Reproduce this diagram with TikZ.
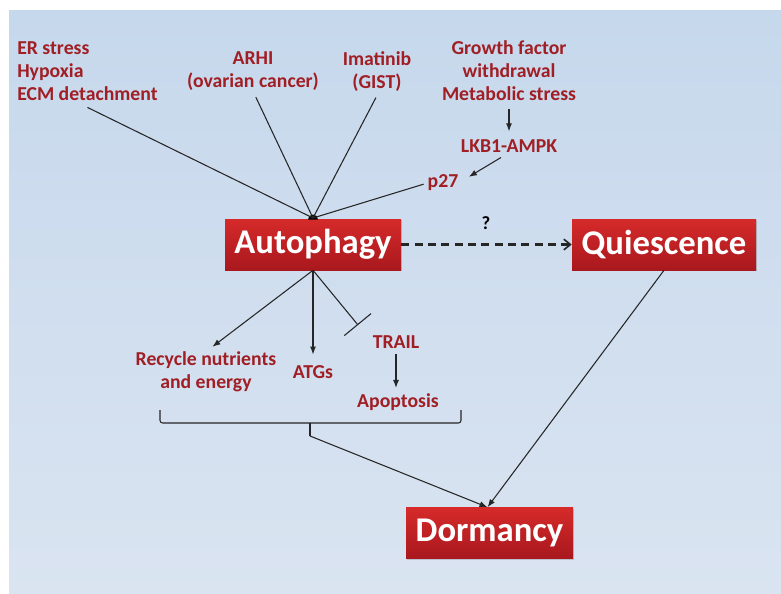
\documentclass[tikz,border=0pt]{standalone}
\usepackage{fontspec}
\setmainfont{Carlito}
\usetikzlibrary{arrows.meta,shadows}
\definecolor{lblred}{RGB}{160,30,36}
\definecolor{bgtop}{RGB}{198,216,236}
\definecolor{bgbot}{RGB}{218,228,241}
\definecolor{boxtop}{RGB}{214,42,42}
\definecolor{boxbot}{RGB}{168,24,30}
\tikzset{
  lbl/.style={text=lblred, font=\fontsize{14.8}{17.25}\selectfont\bfseries, inner sep=0pt, align=center},
  bigbox/.style={draw=none, top color=boxtop, bottom color=boxbot, text=white,
    font=\fontsize{26}{30}\selectfont\bfseries, inner sep=0pt, minimum height=38.25pt,
    drop shadow={opacity=0.35, shadow xshift=0.8pt, shadow yshift=-0.8pt}},
  conn/.style={draw=black!85, line width=0.8pt},
  arr/.style={conn, -{Latex[length=6pt,width=4.5pt]}},
}
\begin{document}
\begin{tikzpicture}[x=0.75pt,y=-0.75pt]
\useasboundingbox (0,0) rectangle (781,593);
\fill[white] (0,0) rectangle (781,593);
\shade[top color=bgtop, bottom color=bgbot] (9,10) rectangle (781,593);

% boxes
\node[bigbox, minimum width=132pt] (auto) at (313,244.5) {Autophagy};
\node[bigbox, minimum width=138pt] (quies) at (664,244.5) {Quiescence};
\node[bigbox, minimum width=125.25pt] (dorm) at (489.5,533) {Dormancy};

% top labels
\node[lbl, align=left, anchor=west] (er) at (17,71) {ER stress\\Hypoxia\\ECM detachment};
\node[lbl] (arhi) at (253,71.5) {ARHI\\(ovarian cancer)};
\node[lbl] (imat) at (377,71.5) {Imatinib\\(GIST)};
\node[lbl] (growth) at (509,71) {Growth factor\\withdrawal\\Metabolic stress};
\node[lbl] (lkb) at (509,146) {LKB1-AMPK};
\node[lbl] (p27) at (443,183) {p27};
\node[text=black, font=\fontsize{14}{17}\selectfont\bfseries, inner sep=0pt] (q) at (486,223) {?};

% bottom labels
\node[lbl] (recycle) at (206,372) {Recycle nutrients\\and energy};
\node[lbl] (atgs) at (313,372) {ATGs};
\node[lbl] (trail) at (396,342) {TRAIL};
\node[lbl] (apop) at (398,402) {Apoptosis};

% convergence point
\coordinate (conv) at (313,218);
\fill[black] (308,219.5) arc[start angle=180, end angle=360, radius=5];

\draw[conn] ([yshift=-5pt]er.south) -- (conv);
\draw[conn, shorten <=5pt] (arhi.south) -- (conv);
\draw[conn, shorten <=5pt] ([xshift=1.5pt]imat.south) -- (conv);
\draw[conn, shorten <=3pt] (p27.west) -- (conv);
\draw[arr, shorten <=6pt, shorten >=6pt] (growth.south) -- (lkb.north);
\draw[arr, shorten <=7pt, shorten >=9pt] (lkb.south) -- (p27.east);

% dashed arrow
\draw[draw=black!85, line width=1.6pt, dash pattern=on 6pt off 4pt, -{Straight Barb[length=5pt,width=8pt,line width=1.2pt]}] (auto.east) -- (quies.west);

% from autophagy
\draw[arr, shorten >=6pt] (auto.south) -- (recycle.north);
\draw[arr, shorten >=8pt] (auto.south) -- (atgs.north);
\coordinate (inh) at (358,325);
\draw[conn, -{Bar[width=26pt,line width=0.8pt]}] (auto.south) -- (inh);
\draw[arr, shorten <=4pt, shorten >=4pt] (trail.south) -- (trail.south |- apop.north);

% brace
\coordinate (bl) at (160,410);
\coordinate (br) at (461,410);
\coordinate (bm) at (310,423);
\coordinate (bt) at (310,436);
\draw[conn, rounded corners=2pt] (bl) |- (bm) -| (br);
\draw[conn] (bm) -- (bt);
\draw[arr] (bt) -- ([xshift=-1.5pt]dorm.north);
\draw[arr] (quies.south) -- ([xshift=-1.5pt]dorm.north);
\end{tikzpicture}
\end{document}
